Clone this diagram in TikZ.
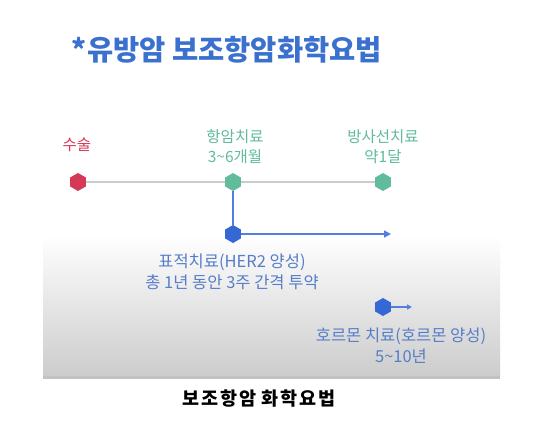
\documentclass[tikz,border=0pt]{standalone}
\usepackage{fontspec}
\setmainfont{Noto Sans CJK KR}
\usepackage{xcolor}
\usepackage{tikz}
\usetikzlibrary{shapes.geometric,arrows.meta,positioning}
\definecolor{surgred}{RGB}{214,56,88}
\definecolor{chemogreen}{RGB}{96,188,155}
\definecolor{targetblue}{RGB}{52,104,212}
\definecolor{labelblue}{RGB}{86,126,200}
\definecolor{titleblue}{RGB}{58,112,206}
\definecolor{shotgray}{RGB}{204,204,204}

\begin{document}
\begin{tikzpicture}[x=1pt,y=-1pt,
  hexa/.style={regular polygon,regular polygon sides=6,shape border rotate=30,
    minimum size=18pt,inner sep=0pt,draw=none},
  lbl/.style={align=center,inner sep=0pt,font=\fontsize{15.5}{20}\selectfont},
  bluelbl/.style={align=center,inner sep=0pt,text=labelblue,font=\fontsize{16.5}{21}\selectfont}]
\useasboundingbox (0,0) rectangle (555,439);
% screenshot background
\fill[white] (0,0) rectangle (555,439);
\shade[top color=white,bottom color=shotgray] (43,235) rectangle (500,376);
\fill[shotgray!95!black] (43,376) rectangle (500,379);

\node[text=titleblue,font=\fontsize{28.5}{32}\selectfont\bfseries](title) at (227,50){*유방암 보조항암화학요법};

% main line
\node[hexa,fill=surgred](surg) at (78,182){};
\node[hexa,fill=chemogreen](chemo) at (233,182){};
\node[hexa,fill=chemogreen](radio) at (383,182){};
\draw[shotgray,line width=1.6pt](surg)--(chemo);
\draw[shotgray,line width=1.6pt](chemo)--(radio);
\node[lbl,text=surgred](surglbl) at (77,145){수술};
\node[lbl,text=chemogreen](chemolbl) at (235,147){항암치료\\3\textasciitilde6개월};
\node[lbl,text=chemogreen](radiolbl) at (383,147){방사선치료\\약1달};

% targeted therapy
\node[hexa,fill=targetblue](target) at (233,234){};
\coordinate (targetend) at (391,234);
\draw[targetblue!85,line width=1.6pt](chemo)--(target);
\draw[targetblue!85,line width=1.6pt,-{Triangle[length=7pt,width=7pt]}](target)--(targetend);
\node[bluelbl](targetlbl) at (232,272){표적치료(HER2 양성)\\총 1년 동안 3주 간격 투약};

% hormone therapy
\node[hexa,fill=targetblue](hormone) at (383,307){};
\coordinate (hormoneend) at (412,307);
\draw[targetblue!85,line width=1.4pt,-{Triangle[length=5pt,width=5pt]}](hormone)--(hormoneend);
\node[bluelbl](hormonelbl) at (401,346){호르몬 치료(호르몬 양성)\\5\textasciitilde10년};

\node[font=\fontsize{18.5}{22}\selectfont\bfseries\addfontfeature{LetterSpace=9}](caption) at (259,399){보조항암 화학요법};
\end{tikzpicture}
\end{document}
